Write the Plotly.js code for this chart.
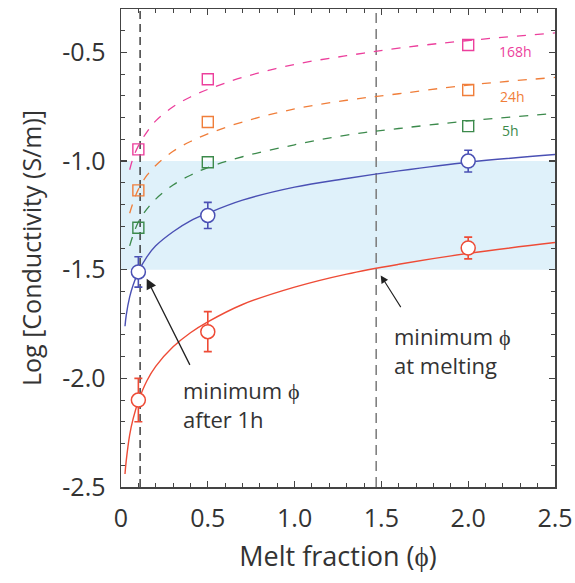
<!DOCTYPE html>
<html>
<head>
<meta charset="utf-8">
<script src="https://cdn.plot.ly/plotly-3.0.1.min.js"></script>
<style>html,body{margin:0;padding:0;background:#fff;}#chart{width:575px;height:583px;}</style>
</head>
<body>
<div id="chart"></div>
<script>
// Measured points (melt fraction, log conductivity)
const ptX = [0.1, 0.5, 2.0];
const blueY = [-1.51, -1.25, -1.0];
const blueErr = [0.07, 0.06, 0.05];
const redY = [-2.1, -1.785, -1.4];
const redErr = [0.1, 0.092, 0.05];
const h168Y = [-0.946, -0.623, -0.466];
const h24Y = [-1.135, -0.82, -0.673];
const h5Y = [-1.307, -1.005, -0.839];

// Fit curves
const fitXSolid = [0.023, 0.03, 0.05, 0.07, 0.1, 0.15, 0.2, 0.3, 0.4, 0.5, 0.7, 1.0, 1.3, 1.6, 2.0, 2.5];
const blueFit = [-1.76, -1.71, -1.625, -1.57, -1.51, -1.44, -1.39, -1.325, -1.275, -1.24, -1.18, -1.12, -1.08, -1.045, -1.005, -0.97];
const redFit = [-2.44, -2.38, -2.26, -2.185, -2.105, -2.01, -1.945, -1.855, -1.79, -1.74, -1.66, -1.58, -1.52, -1.475, -1.425, -1.375];
const fitXDashed = [0.05, 0.07, 0.1, 0.15, 0.2, 0.3, 0.4, 0.5, 0.7, 1.0, 1.3, 1.6, 2.0, 2.5];
const h168Fit = [-1.04, -0.985, -0.93, -0.865, -0.815, -0.75, -0.705, -0.67, -0.615, -0.555, -0.515, -0.48, -0.445, -0.41];
const h24Fit = [-1.24, -1.19, -1.13, -1.065, -1.02, -0.955, -0.91, -0.875, -0.82, -0.76, -0.72, -0.69, -0.65, -0.615];
const h5Fit = [-1.39, -1.34, -1.28, -1.22, -1.175, -1.11, -1.065, -1.03, -0.98, -0.925, -0.88, -0.85, -0.815, -0.78];

const seriesLabels = ['168h', '24h', '5h'];
const xTickVals = [0, 0.5, 1.0, 1.5, 2.0, 2.5];
const xTickText = ['0', '0.5', '1.0', '1.5', '2.0', '2.5'];
const yTickVals = [-2.5, -2.0, -1.5, -1.0, -0.5];
const yTickText = ['-2.5', '-2.0', '-1.5', '-1.0', '-0.5'];
const bandRange = [-1.5, -1.0];
const minPhiAfter1h = 0.11;
const minPhiAtMelting = 1.47;

const C = {blue:'#4a50b4', red:'#ee4b36', pink:'#ec3f9c', orange:'#f07e3a', green:'#3c8a4c', text:'#333333', axis:'#444444'};
const FONT = 'Open Sans';

const traces = [
  {x: fitXDashed, y: h168Fit, mode:'lines', line:{color:C.pink, width:1.3, dash:'dash', shape:'spline'}, hoverinfo:'skip'},
  {x: fitXDashed, y: h24Fit, mode:'lines', line:{color:C.orange, width:1.3, dash:'dash', shape:'spline'}, hoverinfo:'skip'},
  {x: fitXDashed, y: h5Fit, mode:'lines', line:{color:C.green, width:1.3, dash:'dash', shape:'spline'}, hoverinfo:'skip'},
  {x: fitXSolid, y: blueFit, mode:'lines', line:{color:C.blue, width:1.4, shape:'spline'}, hoverinfo:'skip'},
  {x: fitXSolid, y: redFit, mode:'lines', line:{color:C.red, width:1.4, shape:'spline'}, hoverinfo:'skip'},
  {x: ptX, y: h168Y, mode:'markers', marker:{symbol:'square', size:11, color:'rgba(255,255,255,0)', line:{color:C.pink, width:1.4}}},
  {x: ptX, y: h24Y, mode:'markers', marker:{symbol:'square', size:11, color:'rgba(255,255,255,0)', line:{color:C.orange, width:1.4}}},
  {x: ptX, y: h5Y, mode:'markers', marker:{symbol:'square', size:11, color:'rgba(255,255,255,0)', line:{color:C.green, width:1.4}}},
  {x: ptX, y: blueY, mode:'markers', error_y:{type:'data', array: blueErr, color:C.blue, thickness:1.6, width:4},
   marker:{symbol:'circle', size:14, color:'#ffffff', line:{color:C.blue, width:1.5}}},
  {x: ptX, y: redY, mode:'markers', error_y:{type:'data', array: redErr, color:C.red, thickness:1.6, width:4},
   marker:{symbol:'circle', size:14, color:'#ffffff', line:{color:C.red, width:1.5}}}
];

const axisCommon = {
  showgrid:false, zeroline:false, showline:true, linecolor:C.axis, linewidth:1.5,
  mirror:'allticks', ticks:'inside', ticklen:6, tickwidth:1.2, tickcolor:C.axis,
  tickfont:{family:FONT, size:25, color:C.text},
  minor:{ticks:'inside', ticklen:4, tickwidth:1, tickcolor:C.axis, dtick:0.1}
};

const layout = {
  width:575, height:583,
  margin:{l:121, r:20, t:9, b:96},
  paper_bgcolor:'#ffffff', plot_bgcolor:'#ffffff',
  showlegend:false,
  font:{family:FONT, color:C.text},
  xaxis: Object.assign({}, axisCommon, {
    range:[0, 2.5], tickmode:'array', tickvals:xTickVals, ticktext:xTickText,
    ticklabelstandoff:8,
    title:{text:'Melt fraction (ϕ)', font:{family:FONT, size:27, color:C.text}, standoff:14}
  }),
  yaxis: Object.assign({}, axisCommon, {
    range:[-2.5, -0.3], tickmode:'array', tickvals:yTickVals, ticktext:yTickText,
    ticklabelstandoff:9,
    title:{text:'Log [Conductivity (S/m)]', font:{family:FONT, size:25, color:C.text}, standoff:13}
  }),
  shapes:[
    {type:'rect', layer:'below', xref:'paper', x0:0, x1:1, yref:'y', y0:bandRange[0], y1:bandRange[1],
     fillcolor:'#dff1fa', line:{width:0}},
    {type:'line', layer:'below', xref:'x', x0:minPhiAfter1h, x1:minPhiAfter1h, yref:'paper', y0:0, y1:1,
     line:{color:'#222222', width:1.3, dash:'8px,5px'}},
    {type:'line', layer:'below', xref:'x', x0:minPhiAtMelting, x1:minPhiAtMelting, yref:'paper', y0:0, y1:1,
     line:{color:'#808080', width:1.6, dash:'10px,6px'}}
  ],
  annotations:[
    {x:2.275, y:-0.497, xref:'x', yref:'y', text:seriesLabels[0], showarrow:false, font:{family:FONT, size:14, color:C.pink}},
    {x:2.258, y:-0.704, xref:'x', yref:'y', text:seriesLabels[1], showarrow:false, font:{family:FONT, size:14, color:C.orange}},
    {x:2.245, y:-0.857, xref:'x', yref:'y', text:seriesLabels[2], showarrow:false, font:{family:FONT, size:14, color:C.green}},
    {x:0.148, y:-1.541, ax:0.401, ay:-1.945, xref:'x', yref:'y', axref:'x', ayref:'y', text:'', showarrow:true,
     arrowhead:2, arrowsize:1.6, arrowwidth:1.3, arrowcolor:'#222222'},
    {x:1.496, y:-1.526, ax:1.617, ay:-1.679, xref:'x', yref:'y', axref:'x', ayref:'y', text:'', showarrow:true,
     arrowhead:2, arrowsize:1.4, arrowwidth:1.1, arrowcolor:'#222222'},
    {x:0.343, y:-2.119, xref:'x', yref:'y', xanchor:'left', yanchor:'middle', align:'left', showarrow:false,
     text:'minimum ϕ<br>after 1h', font:{family:FONT, size:22, color:C.text}},
    {x:1.56, y:-1.874, xref:'x', yref:'y', xanchor:'left', yanchor:'middle', align:'left', showarrow:false,
     text:'minimum ϕ<br>at melting', font:{family:FONT, size:22, color:C.text}}
  ]
};

Plotly.newPlot('chart', traces, layout, {staticPlot:true, displayModeBar:false});
</script>
</body>
</html>
